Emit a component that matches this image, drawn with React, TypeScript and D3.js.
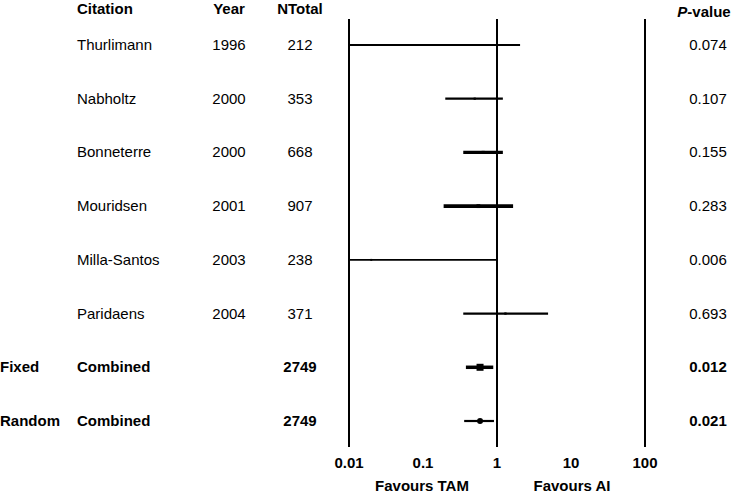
import { useEffect, useRef } from 'react';
import * as d3 from 'd3';

const citations = ['Thurlimann', 'Nabholtz', 'Bonneterre', 'Mouridsen', 'Milla-Santos', 'Paridaens'];
const years = ['1996', '2000', '2000', '2001', '2003', '2004'];
const nTotals = [212, 353, 668, 907, 238, 371];
const estimates = [0.98, 0.5, 0.65, 0.56, 0.02, 1.3];
const lowerCI = [0.005, 0.2, 0.35, 0.19, 0.005, 0.35];
const upperCI = [2.05, 1.2, 1.2, 1.65, 1.0, 4.9];
const pValues = ['0.074', '0.107', '0.155', '0.283', '0.006', '0.693'];

const pooledModels = ['Fixed', 'Random'];
const pooledN = [2749, 2749];
const pooledEst = [0.59, 0.59];
const pooledLower = [0.38, 0.36];
const pooledUpper = [0.89, 0.91];
const pooledP = ['0.012', '0.021'];

const ticks = [0.01, 0.1, 1, 10, 100];
const tickLabels = ['0.01', '0.1', '1', '10', '100'];

const W = 738;
const H = 493;
const FONT = '"Liberation Sans", Arial, Helvetica, sans-serif';

export default function App() {
  const ref = useRef<SVGSVGElement>(null);

  useEffect(() => {
    const svg = d3.select(ref.current);
    svg.selectAll('*').remove();

    // escalas
    const x = d3.scaleLog().domain([0.01, 100]).range([349, 645]).clamp(true);
    const rowKeys = [...citations, ...pooledModels];
    const y = d3.scalePoint<string>().domain(rowKeys).range([45, 421]);
    const lw = d3.scaleLinear().domain([200, 900]).range([1.8, 3.8]).clamp(true);

    const g = svg.append('g').attr('font-family', FONT).attr('font-size', 15).attr('fill', '#000');

    // cabeceras
    const head = g.append('g').attr('font-weight', 'bold');
    head.append('text').attr('x', 77).attr('y', 14).text('Citation');
    head.append('text').attr('x', 229).attr('y', 14).attr('text-anchor', 'middle').text('Year');
    head.append('text').attr('x', 300).attr('y', 14).attr('text-anchor', 'middle').text('NTotal');
    const ph = head.append('text').attr('x', 704).attr('y', 17).attr('text-anchor', 'middle');
    ph.append('tspan').attr('font-style', 'italic').text('P');
    ph.append('tspan').text('-value');

    // lineas verticales de referencia
    g.selectAll('.vline')
      .data([0.01, 1, 100])
      .enter().append('line')
      .attr('x1', d => x(d)).attr('x2', d => x(d))
      .attr('y1', 19).attr('y2', 447)
      .attr('stroke', '#000').attr('stroke-width', 2);

    // estudios
    citations.forEach((c, i) => {
      const yy = y(c)!;
      g.append('text').attr('x', 77).attr('y', yy + 5).text(c);
      g.append('text').attr('x', 229).attr('y', yy + 5).attr('text-anchor', 'middle').text(years[i]);
      g.append('text').attr('x', 300).attr('y', yy + 5).attr('text-anchor', 'middle').text(nTotals[i]);
      g.append('text').attr('x', 708).attr('y', yy + 5).attr('text-anchor', 'middle').text(pValues[i]);
      g.append('line')
        .attr('x1', x(lowerCI[i])).attr('x2', x(upperCI[i]))
        .attr('y1', yy).attr('y2', yy)
        .attr('stroke', '#000').attr('stroke-width', lw(nTotals[i]));
      const s = lw(nTotals[i]);
      g.append('rect')
        .attr('x', x(estimates[i]) - s / 2).attr('y', yy - s / 2)
        .attr('width', s).attr('height', s).attr('fill', '#000');
    });

    // combinados
    pooledModels.forEach((m, i) => {
      const yy = y(m)!;
      const b = g.append('g').attr('font-weight', 'bold');
      b.append('text').attr('x', 0).attr('y', yy + 5).text(m);
      b.append('text').attr('x', 77).attr('y', yy + 5).text('Combined');
      b.append('text').attr('x', 300).attr('y', yy + 5).attr('text-anchor', 'middle').text(pooledN[i]);
      b.append('text').attr('x', 708).attr('y', yy + 5).attr('text-anchor', 'middle').text(pooledP[i]);
      g.append('line')
        .attr('x1', x(pooledLower[i])).attr('x2', x(pooledUpper[i]))
        .attr('y1', yy).attr('y2', yy)
        .attr('stroke', '#000').attr('stroke-width', i === 0 ? 3.5 : 2.2);
      if (i === 0) {
        g.append('rect')
          .attr('x', x(pooledEst[i]) - 3.5).attr('y', yy - 3.5)
          .attr('width', 7).attr('height', 7).attr('fill', '#000');
      } else {
        g.append('circle')
          .attr('cx', x(pooledEst[i])).attr('cy', yy).attr('r', 3).attr('fill', '#000');
      }
    });

    // eje
    const ax = g.append('g').attr('font-weight', 'bold');
    ax.selectAll('.tick')
      .data(ticks)
      .enter().append('text')
      .attr('x', d => x(d)).attr('y', 468)
      .attr('text-anchor', 'middle')
      .text((d, i) => tickLabels[i]);
    ax.append('text').attr('x', 422).attr('y', 491).attr('text-anchor', 'middle').text('Favours TAM');
    ax.append('text').attr('x', 572).attr('y', 491).attr('text-anchor', 'middle').text('Favours AI');
  }, []);

  return (
    <svg
      ref={ref}
      width={W}
      height={H}
      style={{ position: 'absolute', left: 0, top: 0, background: '#fff' }}
    />
  );
}
